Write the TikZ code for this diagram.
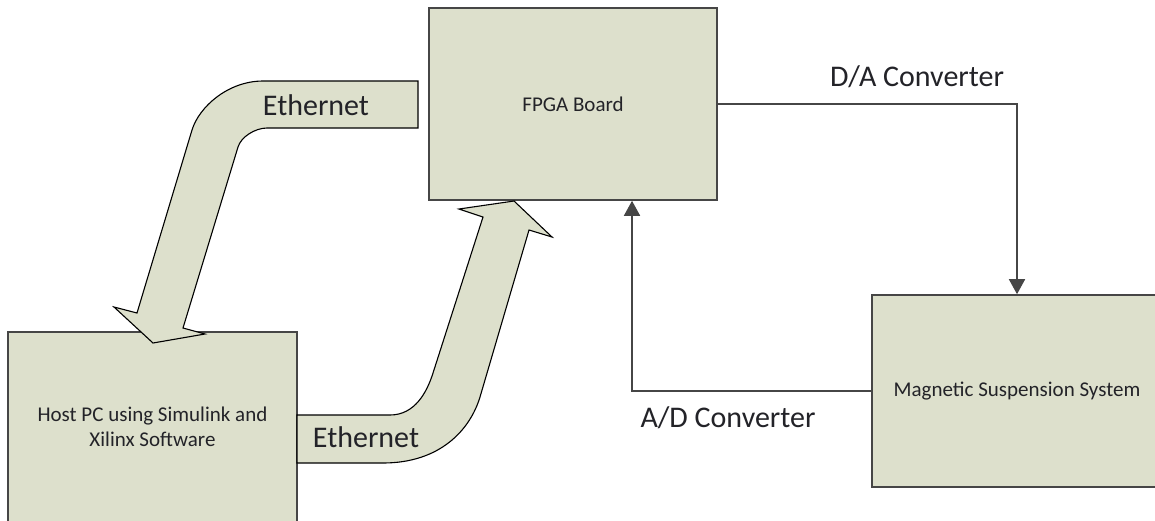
\documentclass[tikz,border=0pt]{standalone}
\usepackage{fontspec}
\setmainfont{Carlito}
\usetikzlibrary{arrows.meta}
\definecolor{boxfill}{RGB}{221,224,204}
\definecolor{boxline}{RGB}{70,70,70}
\definecolor{txt}{RGB}{35,35,40}
\tikzset{
  box/.style={draw=boxline, fill=boxfill, line width=1.6pt, text=txt,
    font=\fontsize{21}{25}\selectfont, align=center, inner sep=0pt},
  bigarrow/.style={draw=black, fill=boxfill, line width=1.1pt, line join=miter},
  conn/.style={draw=boxline, line width=1.6pt,
    -{Triangle[length=15pt,width=16pt]}},
  lbl/.style={text=txt, font=\fontsize{30}{36}\selectfont, inner sep=0pt}
}
\begin{document}
\begin{tikzpicture}[x=1pt,y=-1pt]
\useasboundingbox (0,0) rectangle (1155,520);
\clip (0,0) rectangle (1155,520);
\fill[white] (0,0) rectangle (1155,520);

% boxes
\node[box, minimum width=289pt, minimum height=190pt] (host) at (152.5,427)
  {Host PC using Simulink and\\Xilinx Software};
\node[box, minimum width=288pt, minimum height=192pt] (fpga) at (573,104)
  {FPGA Board};
\node[box, minimum width=290pt, minimum height=192pt] (mag) at (1017,391)
  {Magnetic Suspension System};

% thin connectors
\coordinate (adx) at (632,0);
\draw[conn] (fpga.east) -| (mag.north);
\draw[conn] (mag.west) -| (fpga.south -| adx);

% big Ethernet arrows
\draw[bigarrow] (418,81) -- (263,81)
  .. controls (228,81) and (199,107) .. (192,130)
  -- (137,313) -- (114,307) -- (153,343) -- (205,334) -- (183,328)
  -- (238,147)
  .. controls (241,137) and (255,128) .. (267,128)
  -- (418,128) -- cycle;
\draw[bigarrow] (297,415) -- (390,415)
  .. controls (415,415) and (427,392) .. (433,373)
  -- (483,217) -- (459,209) -- (514,201) -- (552,237) -- (529,230)
  -- (480,397)
  .. controls (470,430) and (440,463) .. (383,463)
  -- (297,463) -- cycle;

% labels
\node[lbl] (eth1) at (316,105) {Ethernet};
\node[lbl] (eth2) at (366,437) {Ethernet};
\node[lbl] (da) at (917,77) {D/A Converter};
\node[lbl] (ad) at (728,418) {A/D Converter};
\end{tikzpicture}
\end{document}
